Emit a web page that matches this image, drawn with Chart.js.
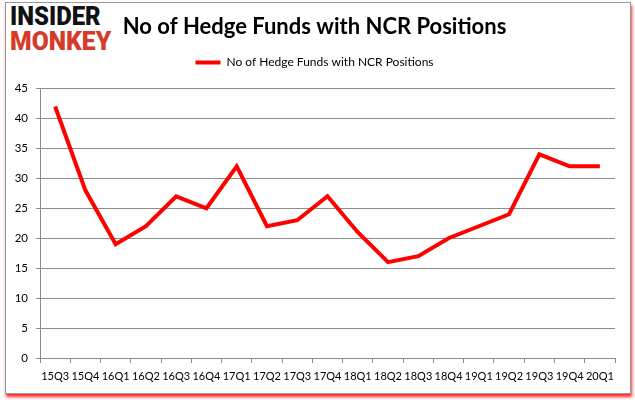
<!DOCTYPE html>
<html>
<head>
<meta charset="utf-8">
<script src="https://cdn.jsdelivr.net/npm/chart.js@4.4.1/dist/chart.umd.min.js"></script>
<style>
  html, body { margin: 0; padding: 0; background: #ffffff; }
  body { width: 635px; height: 405px; position: relative; overflow: hidden; }
  #frame {
    position: absolute; left: 5px; top: 2px; width: 624px; height: 390px;
    border: 1px solid #9a9a9a; background: #fff;
    box-shadow: 1px 3px 3px rgba(255,0,0,0.85);
  }
  #logo { position: absolute; left: 10px; top: 3px; font-family: "Roboto", "DejaVu Sans", sans-serif; font-weight: 900; line-height: 1; }
  #logo .l1 { color: #111; font-size: 26px; display: block; transform-origin: 0 0; transform: scaleX(0.92); }
  #logo .l2 { color: #d63a2b; font-size: 26px; display: block; transform-origin: 0 0; transform: scaleX(0.95); margin-top: -1px; }
  #wrap { position: absolute; left: 0; top: 0; width: 635px; height: 405px; }
</style>
</head>
<body>
<div id="frame"></div>
<div id="logo"><span class="l1">INSIDER</span><span class="l2">MONKEY</span></div>
<div id="wrap"><canvas id="c" width="635" height="405"></canvas></div>
<script>
const categories = ["15Q3","15Q4","16Q1","16Q2","16Q3","16Q4","17Q1","17Q2","17Q3","17Q4","18Q1","18Q2","18Q3","18Q4","19Q1","19Q2","19Q3","19Q4","20Q1"];
const hedgeFunds = [42,28,19,22,27,25,32,22,23,27,21,16,17,20,22,24,34,32,32];
const seriesName = "No of Hedge Funds with NCR Positions";
const chartTitle = "No of Hedge Funds with NCR Positions";
const yMin = 0, yMax = 45, yStep = 5;

const gridColor = "#8c8c8c";
new Chart(document.getElementById("c"), {
  type: "line",
  data: {
    labels: categories,
    datasets: [{
      label: seriesName,
      data: hedgeFunds,
      borderColor: "#ff0000",
      backgroundColor: "#ff0000",
      borderWidth: 4,
      pointRadius: 0,
      tension: 0,
      fill: false
    }]
  },
  options: {
    responsive: false,
    animation: false,
    devicePixelRatio: 1,
    layout: { padding: { left: 14, right: 20, top: 0, bottom: 11 } },
    plugins: {
      title: {
        display: true,
        text: chartTitle,
        color: "#000",
        font: { family: "Lato", size: 22, weight: "bold", lineHeight: 1.0 },
        padding: { top: 15.5, bottom: 0 }
      },
      subtitle: {
        display: true,
        text: "",
        weight: 500,
        font: { size: 1, lineHeight: 1 },
        padding: { top: 9, bottom: 0 }
      },
      legend: {
        display: true,
        labels: {
          color: "#000",
          font: { family: "Lato", size: 12 },
          usePointStyle: true,
          pointStyle: "line",
          pointStyleWidth: 25,
          padding: 19
        }
      },
      tooltip: { enabled: false }
    },
    scales: {
      x: {
        offset: true,
        grid: { display: true, drawOnChartArea: false, drawTicks: true, tickLength: 5, color: gridColor, offset: true },
        border: { display: true, color: gridColor },
        ticks: { color: "#000", font: { family: "Lato", size: 11 }, autoSkip: false, maxRotation: 0, minRotation: 0, padding: 7 },
        afterFit: (s) => { s.height = 36; }
      },
      y: {
        min: yMin, max: yMax,
        ticks: { stepSize: yStep, color: "#000", font: { family: "Lato", size: 11.5 }, padding: 8 },
        grid: { color: gridColor, drawTicks: true, tickLength: 4 },
        border: { display: true, color: gridColor },
        afterFit: (s) => { s.width = 26; }
      }
    }
  }
});
</script>
</body>
</html>
